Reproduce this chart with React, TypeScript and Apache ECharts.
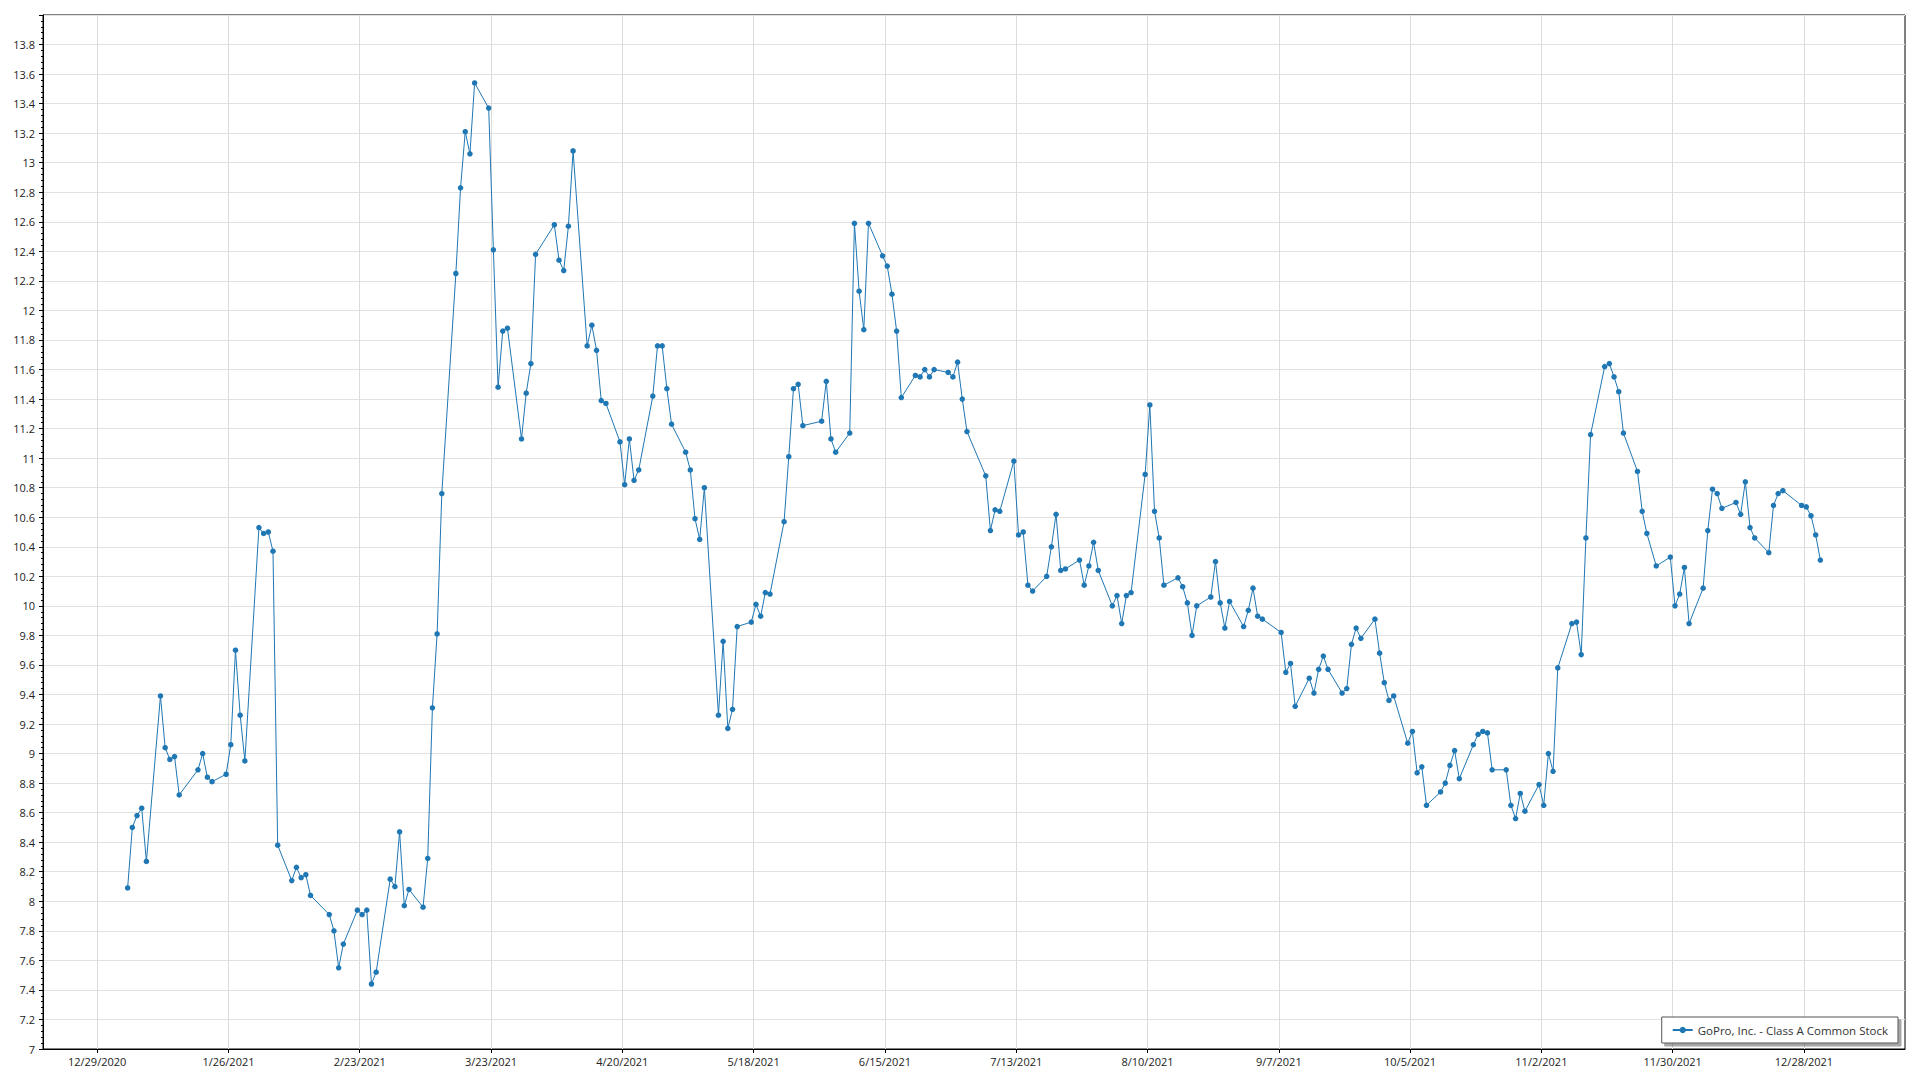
import React, { useEffect, useRef } from "react";
import * as echarts from "echarts";

// GoPro, Inc. - Class A Common Stock, daily close, 2021
const janDays = [4, 5, 6, 7, 8, 11, 12, 13, 14, 15, 19, 20, 21, 22, 25, 26, 27, 28, 29];
const janClose = [8.09, 8.5, 8.58, 8.63, 8.27, 9.39, 9.04, 8.96, 8.98, 8.72, 8.89, 9.0, 8.84, 8.81, 8.86, 9.06, 9.7, 9.26, 8.95];

const febDays = [1, 2, 3, 4, 5, 8, 9, 10, 11, 12, 16, 17, 18, 19, 22, 23, 24, 25, 26];
const febClose = [10.53, 10.49, 10.5, 10.37, 8.38, 8.14, 8.23, 8.16, 8.18, 8.04, 7.91, 7.8, 7.55, 7.71, 7.94, 7.91, 7.94, 7.44, 7.52];

const marDays = [1, 2, 3, 4, 5, 8, 9, 10, 11, 12, 15, 16, 17, 18, 19, 22, 23, 24, 25, 26, 29, 30, 31];
const marClose = [8.15, 8.1, 8.47, 7.97, 8.08, 7.96, 8.29, 9.31, 9.81, 10.76, 12.25, 12.83, 13.21, 13.06, 13.54, 13.37, 12.41, 11.48, 11.86, 11.88, 11.13, 11.44, 11.64];

const aprDays = [1, 5, 6, 7, 8, 9, 12, 13, 14, 15, 16, 19, 20, 21, 22, 23, 26, 27, 28, 29, 30];
const aprClose = [12.38, 12.58, 12.34, 12.27, 12.57, 13.08, 11.76, 11.9, 11.73, 11.39, 11.37, 11.11, 10.82, 11.13, 10.85, 10.92, 11.42, 11.76, 11.76, 11.47, 11.23];

const mayDays = [3, 4, 5, 6, 7, 10, 11, 12, 13, 14, 17, 18, 19, 20, 21, 24, 25, 26, 27, 28];
const mayClose = [11.04, 10.92, 10.59, 10.45, 10.8, 9.26, 9.76, 9.17, 9.3, 9.86, 9.89, 10.01, 9.93, 10.09, 10.08, 10.57, 11.01, 11.47, 11.5, 11.22];

const junDays = [1, 2, 3, 4, 7, 8, 9, 10, 11, 14, 15, 16, 17, 18, 21, 22, 23, 24, 25, 28, 29, 30];
const junClose = [11.25, 11.52, 11.13, 11.04, 11.17, 12.59, 12.13, 11.87, 12.59, 12.37, 12.3, 12.11, 11.86, 11.41, 11.56, 11.55, 11.6, 11.55, 11.6, 11.58, 11.55, 11.65];

const julDays = [1, 2, 6, 7, 8, 9, 12, 13, 14, 15, 16, 19, 20, 21, 22, 23, 26, 27, 28, 29, 30];
const julClose = [11.4, 11.18, 10.88, 10.51, 10.65, 10.64, 10.98, 10.48, 10.5, 10.14, 10.1, 10.2, 10.4, 10.62, 10.24, 10.25, 10.31, 10.14, 10.27, 10.43, 10.24];

const augDays = [2, 3, 4, 5, 6, 9, 10, 11, 12, 13, 16, 17, 18, 19, 20, 23, 24, 25, 26, 27, 30, 31];
const augClose = [10.0, 10.07, 9.88, 10.07, 10.09, 10.89, 11.36, 10.64, 10.46, 10.14, 10.19, 10.13, 10.02, 9.8, 10.0, 10.06, 10.3, 10.02, 9.85, 10.03, 9.86, 9.97];

const sepDays = [1, 2, 3, 7, 8, 9, 10, 13, 14, 15, 16, 17, 20, 21, 22, 23, 24, 27, 28, 29, 30];
const sepClose = [10.12, 9.93, 9.91, 9.82, 9.55, 9.61, 9.32, 9.51, 9.41, 9.57, 9.66, 9.57, 9.41, 9.44, 9.74, 9.85, 9.78, 9.91, 9.68, 9.48, 9.36];

const octDays = [1, 4, 5, 6, 7, 8, 11, 12, 13, 14, 15, 18, 19, 20, 21, 22, 25, 26, 27, 28, 29];
const octClose = [9.39, 9.07, 9.15, 8.87, 8.91, 8.65, 8.74, 8.8, 8.92, 9.02, 8.83, 9.06, 9.13, 9.15, 9.14, 8.89, 8.89, 8.65, 8.56, 8.73, 8.61];

const novDays = [1, 2, 3, 4, 5, 8, 9, 10, 11, 12, 15, 16, 17, 18, 19, 22, 23, 24, 26, 29, 30];
const novClose = [8.79, 8.65, 9.0, 8.88, 9.58, 9.88, 9.89, 9.67, 10.46, 11.16, 11.62, 11.64, 11.55, 11.45, 11.17, 10.91, 10.64, 10.49, 10.27, 10.33, 10.0];

const decDays = [1, 2, 3, 6, 7, 8, 9, 10, 13, 14, 15, 16, 17, 20, 21, 22, 23, 27, 28, 29, 30, 31];
const decClose = [10.08, 10.26, 9.88, 10.12, 10.51, 10.79, 10.76, 10.66, 10.7, 10.62, 10.84, 10.53, 10.46, 10.36, 10.68, 10.76, 10.78, 10.68, 10.67, 10.61, 10.48, 10.31];

const YEAR = 2021;
const POINT_HOUR = 12; // each close is plotted at midday of its date

const xTickLabels = [
  "12/29/2020", "1/26/2021", "2/23/2021", "3/23/2021", "4/20/2021", "5/18/2021", "6/15/2021",
  "7/13/2021", "8/10/2021", "9/7/2021", "10/5/2021", "11/2/2021", "11/30/2021", "12/28/2021",
];

const SERIES_NAME = "GoPro, Inc. - Class A Common Stock";

const monthTable = [
  { month: 1, days: janDays, close: janClose },
  { month: 2, days: febDays, close: febClose },
  { month: 3, days: marDays, close: marClose },
  { month: 4, days: aprDays, close: aprClose },
  { month: 5, days: mayDays, close: mayClose },
  { month: 6, days: junDays, close: junClose },
  { month: 7, days: julDays, close: julClose },
  { month: 8, days: augDays, close: augClose },
  { month: 9, days: sepDays, close: sepClose },
  { month: 10, days: octDays, close: octClose },
  { month: 11, days: novDays, close: novClose },
  { month: 12, days: decDays, close: decClose },
];

const parseLabel = (s: string) => {
  const [m, d, y] = s.split("/").map(Number);
  return Date.UTC(y, m - 1, d);
};
const fmtDate = (v: number) => {
  const d = new Date(v);
  return `${d.getUTCMonth() + 1}/${d.getUTCDate()}/${d.getUTCFullYear()}`;
};

export default function App() {
  const ref = useRef<HTMLDivElement>(null);

  useEffect(() => {
    if (!ref.current) return;
    const chart = echarts.init(ref.current, null, { renderer: "svg" });

    const data: [number, number][] = [];
    monthTable.forEach(({ month, days, close }) => {
      days.forEach((d, i) => data.push([Date.UTC(YEAR, month - 1, d, POINT_HOUR), close[i]]));
    });
    const first = data[0][0];
    const last = data[data.length - 1][0];
    const pad = (last - first) * 0.05;
    const tickValues = xTickLabels.map(parseLabel);

    const font = "'Open Sans', 'Noto Sans', sans-serif";

    chart.setOption({
      animation: false,
      backgroundColor: "#ffffff",
      textStyle: { fontFamily: font },
      grid: {
        left: 43,
        right: 15,
        top: 15,
        bottom: 31,
        show: true,
        borderColor: "#000",
        borderWidth: 1,
        containLabel: false,
        outerBoundsMode: "none",
      },
      legend: {
        data: [SERIES_NAME],
        right: 22,
        bottom: 37,
        orient: "horizontal",
        itemWidth: 20,
        itemHeight: 8,
        padding: [6, 10, 6, 10],
        backgroundColor: "#fff",
        borderColor: "#555",
        borderWidth: 1,
        shadowColor: "rgba(0,0,0,0.35)",
        shadowBlur: 0,
        shadowOffsetX: 3,
        shadowOffsetY: 3,
        textStyle: { fontFamily: font, fontSize: 11.5, color: "#333", lineHeight: 14 },
      },
      xAxis: {
        type: "value",
        min: first - pad,
        max: last + pad,
        axisLine: { show: true, lineStyle: { color: "#000", width: 1 } },
        axisTick: { show: true, length: 4, lineStyle: { color: "#000" }, customValues: tickValues },
        axisLabel: {
          customValues: tickValues,
          formatter: (v: number) => fmtDate(v),
          fontFamily: font,
          fontSize: 11,
          color: "#222",
          margin: 7,
        },
        splitLine: { show: true, lineStyle: { color: "#dcdcdc", width: 1 } },
      },
      yAxis: {
        type: "value",
        min: 7,
        max: 14,
        interval: 0.2,
        axisLine: { show: true, lineStyle: { color: "#000", width: 1 } },
        axisTick: { show: true, length: 4, lineStyle: { color: "#000" } },
        minorTick: { show: true, splitNumber: 5, length: 2, lineStyle: { color: "#000" } },
        axisLabel: {
          showMaxLabel: false,
          fontFamily: font,
          fontSize: 11,
          color: "#222",
          margin: 8,
        },
        splitLine: { show: true, lineStyle: { color: "#e2e2e2", width: 1 } },
      },
      series: [
        {
          name: SERIES_NAME,
          type: "line",
          data,
          symbol: "circle",
          symbolSize: 5.5,
          showSymbol: true,
          itemStyle: { color: "#1f77b4" },
          lineStyle: { color: "#1f77b4", width: 1 },
        },
      ],
    });

    return () => chart.dispose();
  }, []);

  return (
    <div
      ref={ref}
      style={{ position: "fixed", left: 0, top: 0, width: 1920, height: 1080, background: "#fff" }}
    />
  );
}
